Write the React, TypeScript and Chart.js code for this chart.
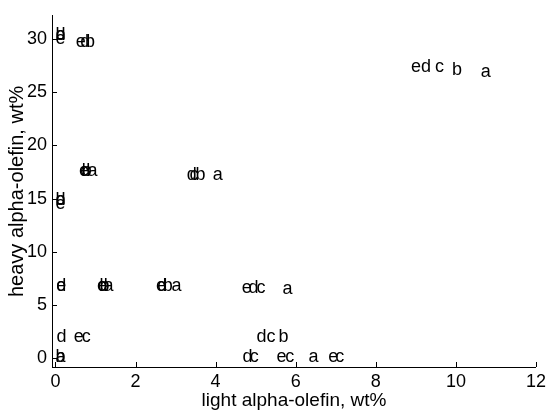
import { useEffect, useRef } from 'react';
import { Chart, registerables } from 'chart.js';

Chart.register(...registerables);

// Axis ticks
const xTicks = [0, 2, 4, 6, 8, 10, 12];
const yTicks = [0, 5, 10, 15, 20, 25, 30];

// Each letter is drawn as a text marker at (light, heavy) wt%
const letters = ['a', 'b', 'c', 'd', 'e'];

const lightA = [0, 0.8, 3.93, 1.2, 2.9, 5.67, 6.32, 10.62];
const heavyA = [0.1, 17.55, 17.2, 6.8, 6.8, 6.54, 0.15, 26.9];

const lightB = [0, 0.74, 0.66, 3.5, 0, 1.1, 2.68, 5.57, 0, 9.9];
const heavyB = [30.3, 29.7, 17.55, 17.2, 14.9, 6.8, 6.8, 2.0, 0.1, 27.05];

const lightC = [3.35, 5.02, 0.66, 5.27, 4.85, 5.74, 6.99, 9.48];
const heavyC = [17.2, 6.63, 2.05, 2.0, 0.15, 0.15, 0.15, 27.3];

const lightD = [0, 0.62, 0.62, 3.28, 0, 0.02, 1.06, 2.54, 4.82, 0.03, 5.02, 4.67, 9.13];
const heavyD = [30.3, 29.7, 17.55, 17.2, 14.9, 6.8, 6.8, 6.8, 6.63, 2.0, 2.0, 0.15, 27.3];

const lightE = [0, 0.51, 0.59, 0, 0.02, 1.04, 2.51, 4.65, 0.46, 5.52, 6.81, 8.88];
const heavyE = [30.0, 29.7, 17.55, 14.5, 6.8, 6.8, 6.8, 6.63, 2.05, 0.15, 0.15, 27.3];

const seriesX = [lightA, lightB, lightC, lightD, lightE];
const seriesY = [heavyA, heavyB, heavyC, heavyD, heavyE];

const FONT_FAMILY = '"Liberation Sans", Arial, Helvetica, sans-serif';

// Draws each point's letter, left-aligned and vertically centred on the point
const letterMarkers = {
  id: 'letterMarkers',
  afterDatasetsDraw(chart: any) {
    const ctx = chart.ctx;
    ctx.save();
    ctx.font = `18px ${FONT_FAMILY}`;
    ctx.fillStyle = '#000';
    ctx.textAlign = 'left';
    ctx.textBaseline = 'middle';
    chart.data.datasets.forEach((ds: any, i: number) => {
      const meta = chart.getDatasetMeta(i);
      meta.data.forEach((pt: any) => {
        ctx.fillText(ds.label, pt.x, pt.y);
      });
    });
    ctx.restore();
  },
};

// Short tick marks pointing into the plot area
const inwardTicks = {
  id: 'inwardTicks',
  afterDraw(chart: any) {
    const { ctx, chartArea, scales } = chart;
    const len = 5;
    ctx.save();
    ctx.strokeStyle = '#000';
    ctx.lineWidth = 1;
    ctx.beginPath();
    xTicks.forEach((v) => {
      const x = Math.round(scales.x.getPixelForValue(v)) + 0.5;
      ctx.moveTo(x, chartArea.bottom);
      ctx.lineTo(x, chartArea.bottom - len);
    });
    yTicks.forEach((v) => {
      const y = Math.round(scales.y.getPixelForValue(v)) + 0.5;
      ctx.moveTo(chartArea.left, y);
      ctx.lineTo(chartArea.left + len, y);
    });
    ctx.stroke();
    ctx.restore();
  },
};

export default function App() {
  const canvasRef = useRef<HTMLCanvasElement | null>(null);

  useEffect(() => {
    const canvas = canvasRef.current;
    if (!canvas) return;

    const chart = new Chart(canvas, {
      type: 'scatter',
      data: {
        datasets: letters.map((letter, i) => ({
          label: letter,
          data: seriesX[i].map((x, j) => ({ x, y: seriesY[i][j] })),
          pointRadius: 0,
          pointHoverRadius: 0,
          showLine: false,
        })),
      },
      options: {
        animation: false,
        responsive: false,
        devicePixelRatio: 1,
        events: [],
        layout: { padding: { top: 10, right: 13, bottom: 0, left: 0 } },
        plugins: {
          legend: { display: false },
          tooltip: { enabled: false },
        },
        scales: {
          x: {
            type: 'linear',
            min: -0.085,
            max: 12,
            afterBuildTicks: (axis: any) => {
              axis.ticks = xTicks.map((value) => ({ value }));
            },
            afterFit: (axis: any) => {
              axis.height = 43;
            },
            grid: { display: false, drawTicks: false },
            border: { display: true, color: '#000', width: 1 },
            ticks: {
              color: '#000',
              padding: 4,
              maxRotation: 0,
              autoSkip: false,
              font: { family: FONT_FAMILY, size: 18 },
            },
            title: {
              display: true,
              text: 'light alpha-olefin, wt%',
              color: '#000',
              font: { family: FONT_FAMILY, size: 19, lineHeight: 1 },
              padding: { top: 0, bottom: 0 },
            },
          },
          y: {
            type: 'linear',
            min: -0.8,
            max: 32.15,
            afterBuildTicks: (axis: any) => {
              axis.ticks = yTicks.map((value) => ({ value }));
            },
            afterFit: (axis: any) => {
              axis.width = 52;
            },
            grid: { display: false, drawTicks: false },
            border: { display: true, color: '#000', width: 1 },
            ticks: {
              color: '#000',
              padding: 5,
              autoSkip: false,
              font: { family: FONT_FAMILY, size: 18 },
            },
            title: {
              display: true,
              text: 'heavy alpha-olefin, wt%',
              color: '#000',
              font: { family: FONT_FAMILY, size: 20, lineHeight: 1 },
              padding: { top: 7, bottom: 0 },
            },
          },
        },
      },
      plugins: [letterMarkers, inwardTicks],
    });

    return () => {
      chart.destroy();
    };
  }, []);

  return (
    <div style={{ position: 'fixed', left: 0, top: 0, width: 550, height: 410, background: '#fff' }}>
      <canvas ref={canvasRef} width={550} height={410} style={{ display: 'block' }} />
    </div>
  );
}
